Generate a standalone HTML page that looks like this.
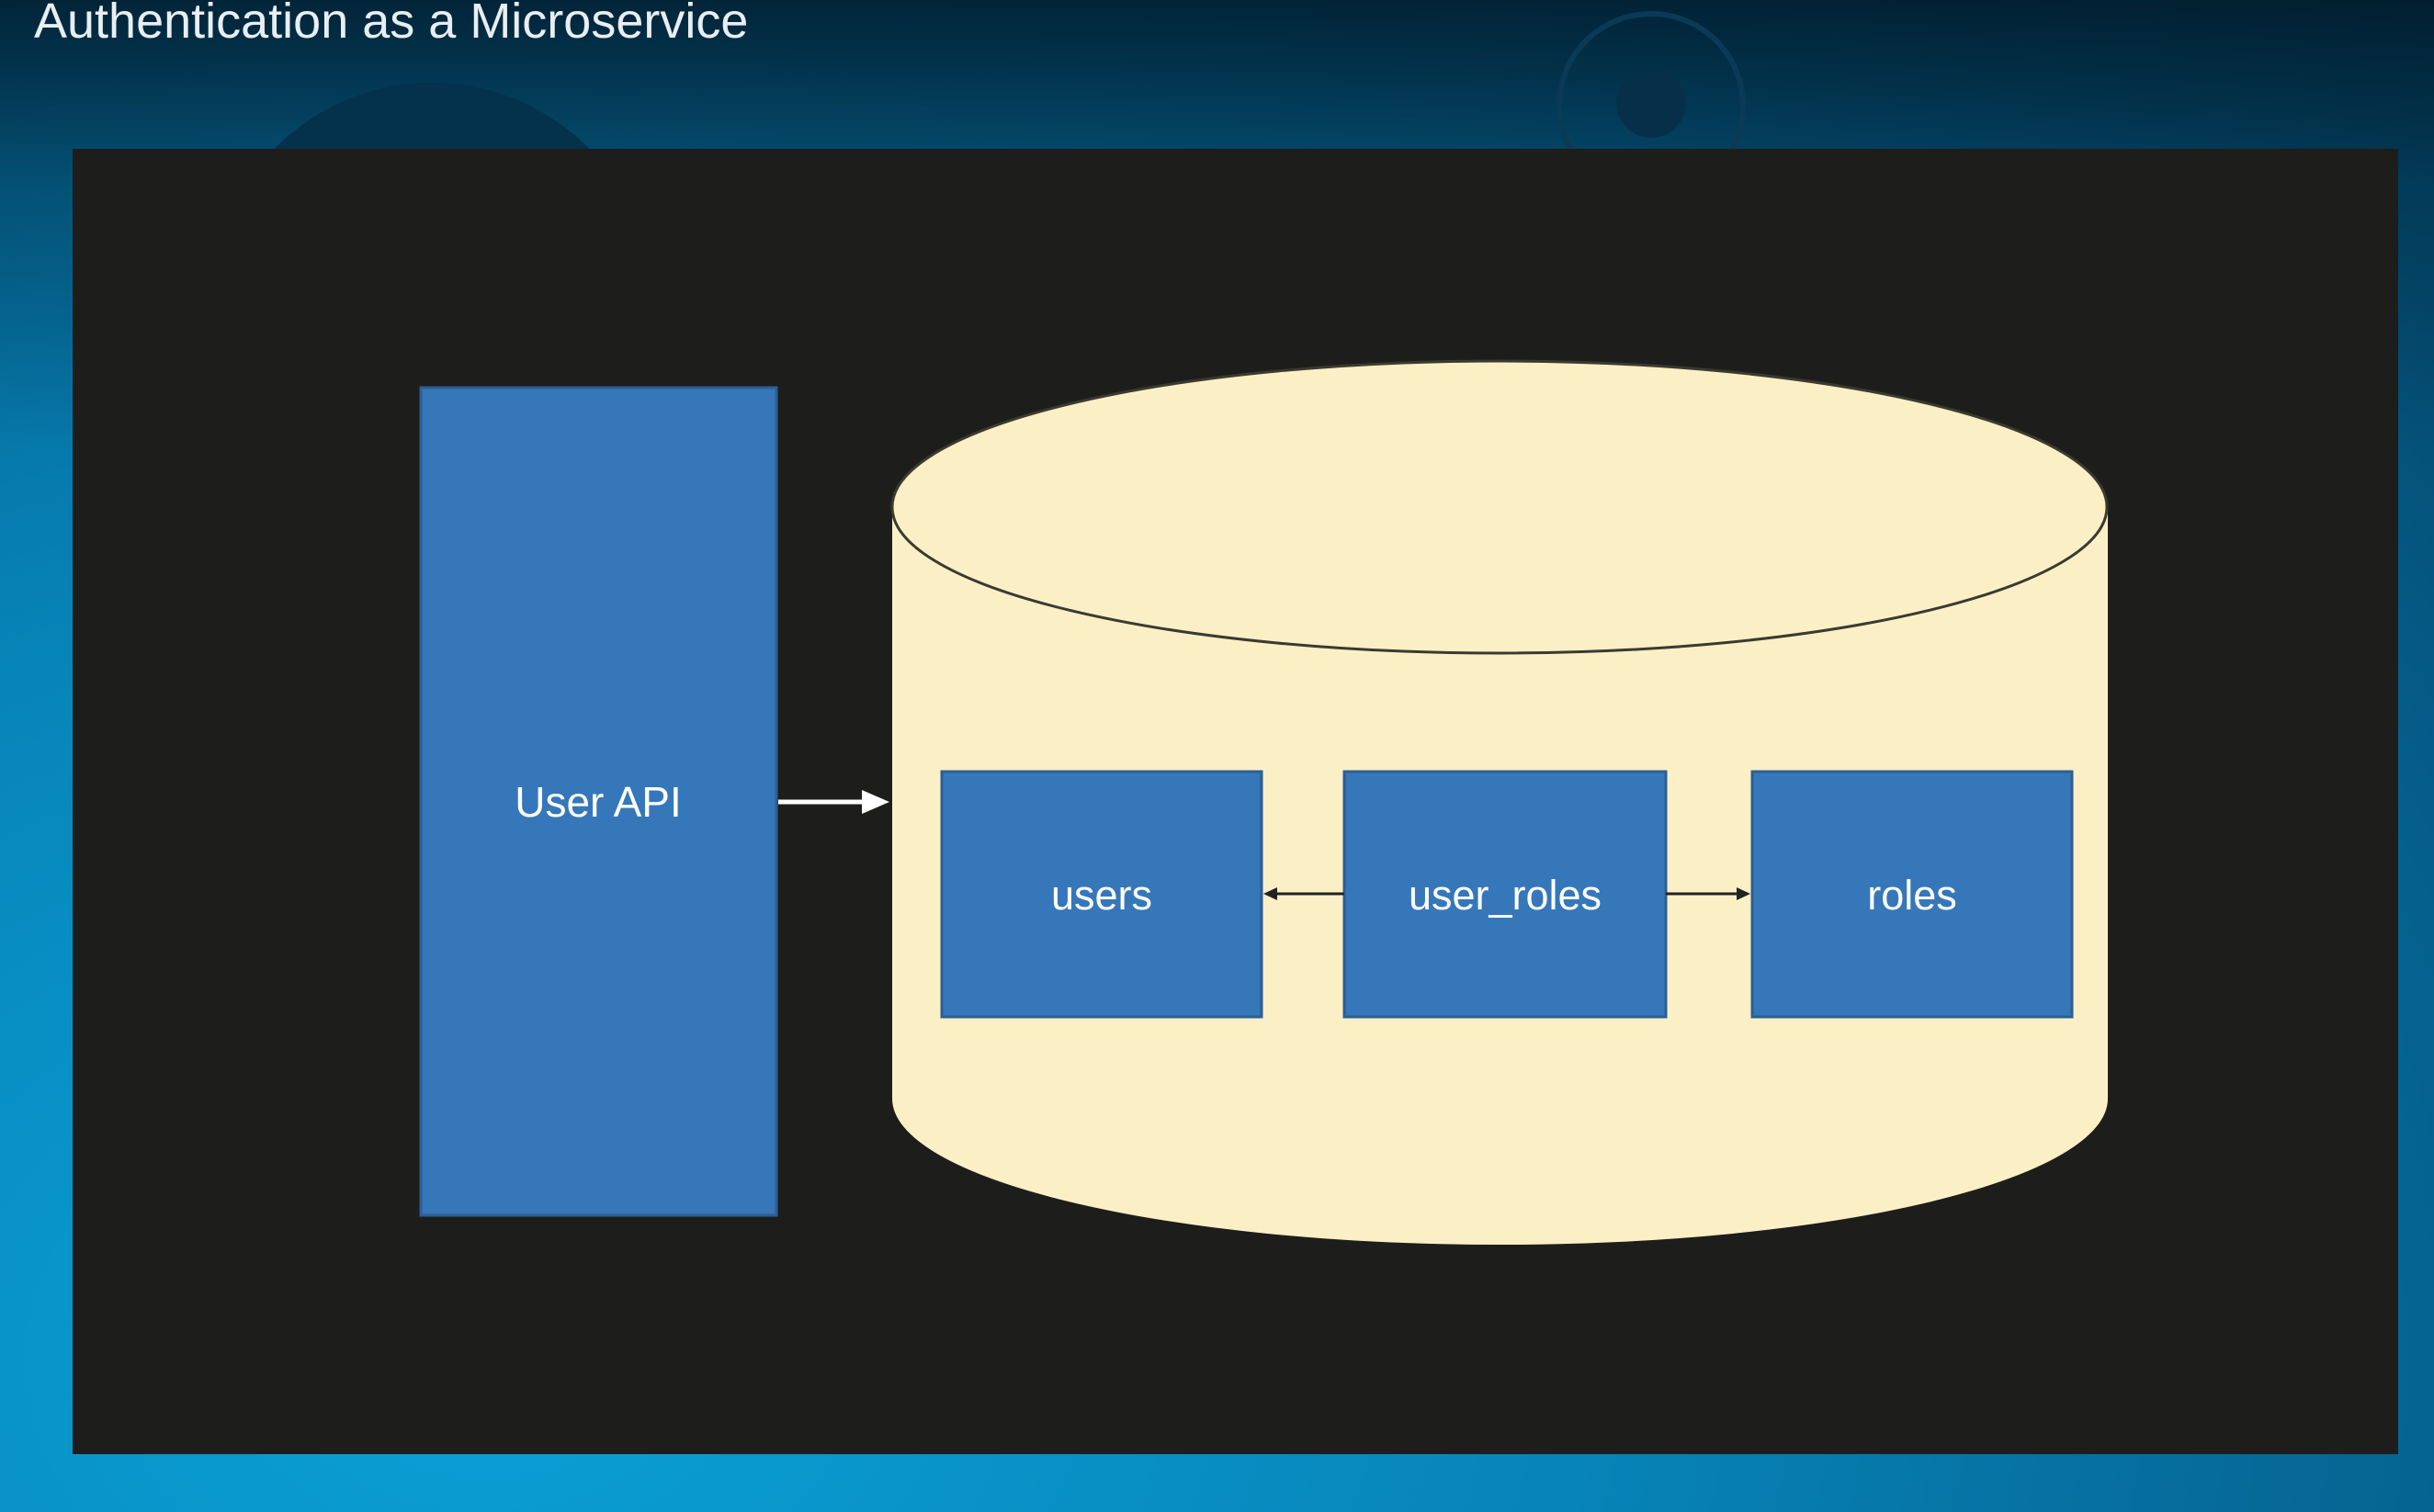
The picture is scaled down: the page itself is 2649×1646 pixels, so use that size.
<!DOCTYPE html>
<html><head><meta charset="utf-8"><style>
html,body{margin:0;padding:0}
body{width:2649px;height:1646px;overflow:hidden;position:relative;
background:linear-gradient(180deg,rgba(1,25,40,0.85) 0%,rgba(2,40,60,0.4) 12%,rgba(0,0,0,0) 30%),radial-gradient(ellipse at 20% 90%,#0aa0d6 0%,#0784b8 40%,#055f8c 75%,#033e5e 100%);
font-family:"Liberation Sans",sans-serif}
.title{position:absolute;left:37px;top:-8px;font-size:54px;color:#e8eef2;white-space:nowrap}
.panel{position:absolute;left:79px;top:162px;width:2531px;height:1421px;background:#1d1d1b}
</style></head><body>
<svg width="2649" height="1646" style="position:absolute;left:0;top:0">
<circle cx="470" cy="330" r="240" fill="#04324d"/>
<circle cx="1797" cy="115" r="100" fill="none" stroke="#0a3a55" stroke-width="6"/>
<circle cx="1797" cy="112" r="38" fill="#06304a"/>
</svg>
<div class="title">Authentication as a Microservice</div>
<div class="panel"></div>
<svg width="2649" height="1646" style="position:absolute;left:0;top:0">
<rect x="458" y="422" width="387" height="901" fill="#3677b9" stroke="#2b5f95" stroke-width="3"/>
<text x="651" y="889" fill="#fff" font-size="46" text-anchor="middle" font-family="Liberation Sans">User API</text>
<path d="M971 552 L971 1196 A661 159 0 0 0 2294 1196 L2294 552 Z" fill="#fbefc6"/>
<ellipse cx="1632" cy="552" rx="661" ry="159" fill="#fbefc6" stroke="#3a3a30" stroke-width="3"/>
<line x1="847" y1="873" x2="945" y2="873" stroke="#fff" stroke-width="5"/>
<polygon points="968,873 938,860 938,886" fill="#fff"/>
<rect x="1025" y="840" width="348" height="267" fill="#3677b9" stroke="#2b5f95" stroke-width="3"/>
<rect x="1463" y="840" width="350" height="267" fill="#3677b9" stroke="#2b5f95" stroke-width="3"/>
<rect x="1907" y="840" width="348" height="267" fill="#3677b9" stroke="#2b5f95" stroke-width="3"/>
<g fill="#fff" font-size="45" text-anchor="middle" font-family="Liberation Sans">
<text x="1199" y="990">users</text><text x="1638" y="990">user_roles</text><text x="2081" y="990">roles</text></g>
<line x1="1463" y1="973" x2="1385" y2="973" stroke="#222" stroke-width="3"/>
<polygon points="1375,973 1390,966 1390,980" fill="#222"/>
<line x1="1813" y1="973" x2="1895" y2="973" stroke="#222" stroke-width="3"/>
<polygon points="1905,973 1890,966 1890,980" fill="#222"/>
</svg>
</body></html>
